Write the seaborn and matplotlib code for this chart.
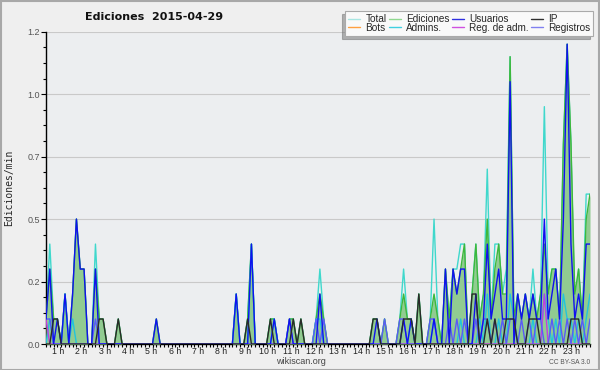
import numpy as np
import pandas as pd
import matplotlib
matplotlib.use("Agg")
import matplotlib.pyplot as plt
import seaborn as sns
from matplotlib.lines import Line2D
from matplotlib.patches import Rectangle

sns.set_theme(style="white")
plt.rcParams["font.family"] = ["Liberation Sans", "DejaVu Sans"]

# edits per minute, averaged over 10-minute bins (144 bins = 1 day)
total = [
    .1, .4, .1, .1, 0, .2, 0, .2, .5, .3, .3, 0,
    0, .4, .1, .1, 0, 0, 0, .1, 0, 0, 0, 0,
    0, 0, 0, 0, 0, .1, 0, 0, 0, 0, 0, 0,
    0, 0, 0, 0, 0, 0, 0, 0, 0, 0, 0, 0,
    0, 0, .2, 0, 0, .1, .4, 0, 0, 0, 0, .1,
    .1, 0, 0, 0, .1, .1, 0, .1, 0, 0, 0, .1,
    .3, .1, 0, 0, 0, 0, 0, 0, 0, 0, 0, 0,
    0, 0, .1, .1, 0, .1, 0, 0, 0, .1, .3, .1,
    .1, 0, .2, 0, 0, .1, .5, .1, 0, .3, .1, .3,
    .3, .4, .4, 0, .2, .4, .1, .2, .7, .1, .4, .4,
    .2, .3, 1.15, .1, .2, .1, .2, .1, .3, .1, .2, .95,
    .2, .3, .3, .1, .8, 1.2, .8, .1, .3, .1, .6, .6,
]
ediciones = [
    .1, .3, .1, .1, 0, .2, 0, .2, .5, .3, .3, 0,
    0, .3, .1, .1, 0, 0, 0, .1, 0, 0, 0, 0,
    0, 0, 0, 0, 0, .1, 0, 0, 0, 0, 0, 0,
    0, 0, 0, 0, 0, 0, 0, 0, 0, 0, 0, 0,
    0, 0, .2, 0, 0, .1, .4, 0, 0, 0, 0, .1,
    .1, 0, 0, 0, .1, .1, 0, .1, 0, 0, 0, .1,
    .2, .1, 0, 0, 0, 0, 0, 0, 0, 0, 0, 0,
    0, 0, .1, .1, 0, .1, 0, 0, 0, .1, .2, .1,
    .1, 0, .2, 0, 0, .1, .2, .1, 0, .3, .1, .3,
    .2, .3, .4, 0, .2, .4, .1, .2, .5, .1, .3, .4,
    .2, .2, 1.15, .1, .2, .1, .2, .1, .2, .1, .2, .4,
    .2, .3, .3, .1, .8, 1.2, .8, .2, .3, .1, .5, .6,
]
usuarios = [
    .1, .3, 0, .1, 0, .2, 0, .2, .5, .3, .3, 0,
    0, .3, 0, 0, 0, 0, 0, 0, 0, 0, 0, 0,
    0, 0, 0, 0, 0, .1, 0, 0, 0, 0, 0, 0,
    0, 0, 0, 0, 0, 0, 0, 0, 0, 0, 0, 0,
    0, 0, .2, 0, 0, 0, .4, 0, 0, 0, 0, 0,
    .1, 0, 0, 0, .1, 0, 0, 0, 0, 0, 0, 0,
    .2, 0, 0, 0, 0, 0, 0, 0, 0, 0, 0, 0,
    0, 0, 0, .1, 0, 0, 0, 0, 0, 0, .1, 0,
    .1, 0, 0, 0, 0, 0, .1, 0, 0, .3, 0, .3,
    .2, .3, .3, 0, 0, .2, 0, .1, .4, .1, .2, .3,
    .1, .1, 1.05, 0, .2, .1, .2, .1, .2, .1, .1, .5,
    .1, .2, .3, .1, .5, 1.2, .4, .1, .2, .1, .4, .4,
]
ip = [
    0, 0, .1, .1, 0, 0, 0, 0, 0, 0, 0, 0,
    0, 0, .1, .1, 0, 0, 0, .1, 0, 0, 0, 0,
    0, 0, 0, 0, 0, 0, 0, 0, 0, 0, 0, 0,
    0, 0, 0, 0, 0, 0, 0, 0, 0, 0, 0, 0,
    0, 0, 0, 0, 0, .1, 0, 0, 0, 0, 0, .1,
    0, 0, 0, 0, 0, .1, 0, .1, 0, 0, 0, 0,
    0, 0, 0, 0, 0, 0, 0, 0, 0, 0, 0, 0,
    0, 0, .1, .1, 0, 0, 0, 0, 0, 0, .1, .1,
    .1, 0, .2, 0, 0, 0, 0, 0, 0, 0, 0, 0,
    0, 0, 0, 0, .2, .2, 0, 0, .1, 0, .1, 0,
    0, .1, .1, .1, 0, 0, 0, .1, .1, .1, 0, 0,
    0, 0, 0, 0, 0, 0, .1, .1, .1, 0, 0, 0,
]
bots = [0] * 144
admins = [
    0, .1, 0, 0, 0, .2, 0, .1, 0, 0, 0, 0,
    0, 0, 0, 0, 0, 0, 0, 0, 0, 0, 0, 0,
    0, 0, 0, 0, 0, 0, 0, 0, 0, 0, 0, 0,
    0, 0, 0, 0, 0, 0, 0, 0, 0, 0, 0, 0,
    0, 0, .2, 0, 0, 0, .4, 0, 0, 0, 0, 0,
    .1, 0, 0, 0, 0, 0, 0, 0, 0, 0, 0, .1,
    .1, 0, 0, 0, 0, 0, 0, 0, 0, 0, 0, 0,
    0, 0, 0, 0, 0, 0, 0, 0, 0, 0, 0, 0,
    .1, 0, 0, 0, 0, 0, .1, 0, 0, 0, 0, 0,
    0, .1, 0, 0, 0, 0, .1, 0, .2, 0, 0, .1,
    0, 0, .2, .1, 0, 0, 0, 0, .1, 0, 0, .2,
    .1, 0, .1, 0, .2, .1, .1, 0, .1, 0, .1, .2,
]
reg_adm = [
    .1, 0, 0, 0, 0, 0, 0, 0, 0, 0, 0, 0,
    0, 0, 0, 0, 0, 0, 0, 0, 0, 0, 0, 0,
    0, 0, 0, 0, 0, 0, 0, 0, 0, 0, 0, 0,
    0, 0, 0, 0, 0, 0, 0, 0, 0, 0, 0, 0,
    0, 0, 0, 0, 0, 0, 0, 0, 0, 0, 0, 0,
    0, 0, 0, 0, 0, 0, 0, 0, 0, 0, 0, 0,
    0, 0, 0, 0, 0, 0, 0, 0, 0, 0, 0, 0,
    0, 0, 0, 0, 0, 0, 0, 0, 0, 0, 0, 0,
    0, 0, 0, 0, 0, 0, 0, 0, 0, 0, 0, 0,
    0, 0, 0, 0, 0, 0, 0, 0, 0, 0, 0, 0,
    0, 0, 0, 0, 0, 0, 0, 0, 0, 0, 0, .2,
    0, 0, 0, 0, 0, 0, 0, 0, 0, 0, 0, 0,
]
registros = [
    .1, .1, 0, 0, 0, 0, 0, 0, 0, 0, 0, 0,
    0, .1, 0, 0, 0, 0, 0, 0, 0, 0, 0, 0,
    0, 0, 0, 0, 0, 0, 0, 0, 0, 0, 0, 0,
    0, 0, 0, 0, 0, 0, 0, 0, 0, 0, 0, 0,
    0, 0, 0, 0, 0, 0, 0, 0, 0, 0, 0, 0,
    0, 0, 0, 0, .1, 0, 0, 0, 0, 0, 0, .1,
    0, .1, 0, 0, 0, 0, 0, 0, 0, 0, 0, 0,
    0, 0, 0, 0, 0, .1, 0, 0, 0, .1, .1, 0,
    0, 0, 0, 0, 0, .1, .1, 0, 0, 0, .1, 0,
    .1, 0, .1, 0, 0, .1, 0, .1, .1, 0, .1, 0,
    .1, 0, .1, .1, 0, .1, 0, .1, 0, .1, .1, 0,
    0, .1, 0, .1, 0, .1, 0, .1, 0, .1, 0, .1,
]

hour_labels = [f"{h} h" for h in range(1, 24)]

df = pd.DataFrame({
    "bin": np.arange(144),
    "Total": total, "Ediciones": ediciones, "Usuarios": usuarios, "IP": ip,
    "Bots": bots, "Admins.": admins, "Reg. de adm.": reg_adm, "Registros": registros,
})

line_colors = {
    "Total": "#3fd8cc", "Ediciones": "#3cb83c", "Usuarios": "#1010f0", "IP": "#2a2a2a",
    "Bots": "#ff9a30", "Admins.": "#22c4dc", "Reg. de adm.": "#c040e0", "Registros": "#5a5af8",
}
legend_colors = {
    "Total": "#a8e6e2", "Ediciones": "#8fd88f", "Usuarios": "#3030e0", "IP": "#303030",
    "Bots": "#ffa040", "Admins.": "#40d0e0", "Reg. de adm.": "#d050e0", "Registros": "#8080f0",
}

fig = plt.figure(figsize=(6, 3.7), dpi=100, facecolor="#efefef")
ax = fig.add_axes([46 / 600, 26 / 370, 544 / 600, 312.3 / 370])
ax.set_facecolor("#eceef0")

# Total under the filled area, the other series on top
sns.lineplot(data=df, x="bin", y="Total", color=line_colors["Total"], lw=1.0, ax=ax, zorder=2)
ax.fill_between(df["bin"], df["Ediciones"], color="#91cb91", lw=0, zorder=3)
for name in ["Ediciones", "Bots", "Admins.", "Reg. de adm.", "Registros", "Usuarios", "IP"]:
    sns.lineplot(data=df, x="bin", y=name, color=line_colors[name], lw=1.0, ax=ax, zorder=4)

ax.set_xlim(0, 143)
ax.set_ylim(0, 1.25)

# y axis
ax.set_yticks([0, 0.25, 0.5, 0.75, 1.0, 1.25])
ax.set_yticklabels(["0.0", "0.2", "0.5", "0.7", "1.0", "1.2"])
ax.set_yticks(np.arange(0, 1.26, 0.0625), minor=True)
ax.tick_params(axis="y", which="major", length=3.8, width=0.8, color="black",
               labelsize=6.5, labelcolor="#555555", pad=0.5, left=True)
ax.tick_params(axis="y", which="minor", length=2.2, width=0.8, color="black", left=True)
ax.grid(axis="y", which="major", color="#c9c9c9", lw=0.8, zorder=0)

# x axis: one tick per 10-minute bin, hour labels in between
ax.set_xticks(np.arange(1, 24) * 6.13 - 2.95)
ax.set_xticklabels(hour_labels)
ax.set_xticks(np.arange(0, 144), minor=True)
ax.tick_params(axis="x", which="major", length=0, labelsize=6.3, labelcolor="#222222", pad=2.5, bottom=True)
ax.tick_params(axis="x", which="minor", length=2.4, width=0.8, color="black", bottom=True)

ax.set_xlabel("")
ax.set_ylabel("Ediciones/min", family="DejaVu Sans Mono", fontsize=7, labelpad=6)
ax.yaxis.set_label_coords(-0.058, 0.5)

for side in ["top", "right"]:
    ax.spines[side].set_visible(False)
for side in ["left", "bottom"]:
    ax.spines[side].set_color("black")
    ax.spines[side].set_linewidth(1.0)

fig.text(154 / 600, 1 - 16.5 / 370, "Ediciones  2015-04-29", ha="center", va="center",
         fontsize=8, fontweight="bold", family="DejaVu Sans", color="#111111")
fig.text(300.5 / 600, 1 - 361.5 / 370, "wikiscan.org", ha="center", va="center",
         fontsize=6.5, color="#444444")
fig.text(590 / 600, 1 - 362.5 / 370, "CC BY-SA 3.0", ha="right", va="center",
         fontsize=4.8, color="#555555")

order = ["Total", "Bots", "Ediciones", "Admins.", "Usuarios", "Reg. de adm.", "IP", "Registros"]
handles = [Line2D([], [], color=legend_colors[n], lw=1.0) for n in order]
leg = ax.legend(handles, order, ncol=4, loc="upper right", fontsize=7.2,
                bbox_to_anchor=(593 / 600, 1 - 11 / 370), bbox_transform=fig.transFigure,
                borderaxespad=0, frameon=True, fancybox=False, handlelength=1.2,
                handletextpad=0.5, columnspacing=0.25, labelspacing=-0.12, borderpad=0.3,
                shadow={"ox": -2.5, "oy": -2.5, "shade": 0.55})
leg.get_frame().set_facecolor("#f9f9f9")
leg.get_frame().set_edgecolor("#aaaaaa")
leg.get_frame().set_linewidth(0.8)
leg.get_frame().set_alpha(1)

fig.add_artist(Rectangle((0.001, 0.001), 0.997, 0.996, transform=fig.transFigure,
                         fill=False, edgecolor="#a8a8a8", lw=1.5))

fig.savefig("out.png", dpi=100, facecolor=fig.get_facecolor())
